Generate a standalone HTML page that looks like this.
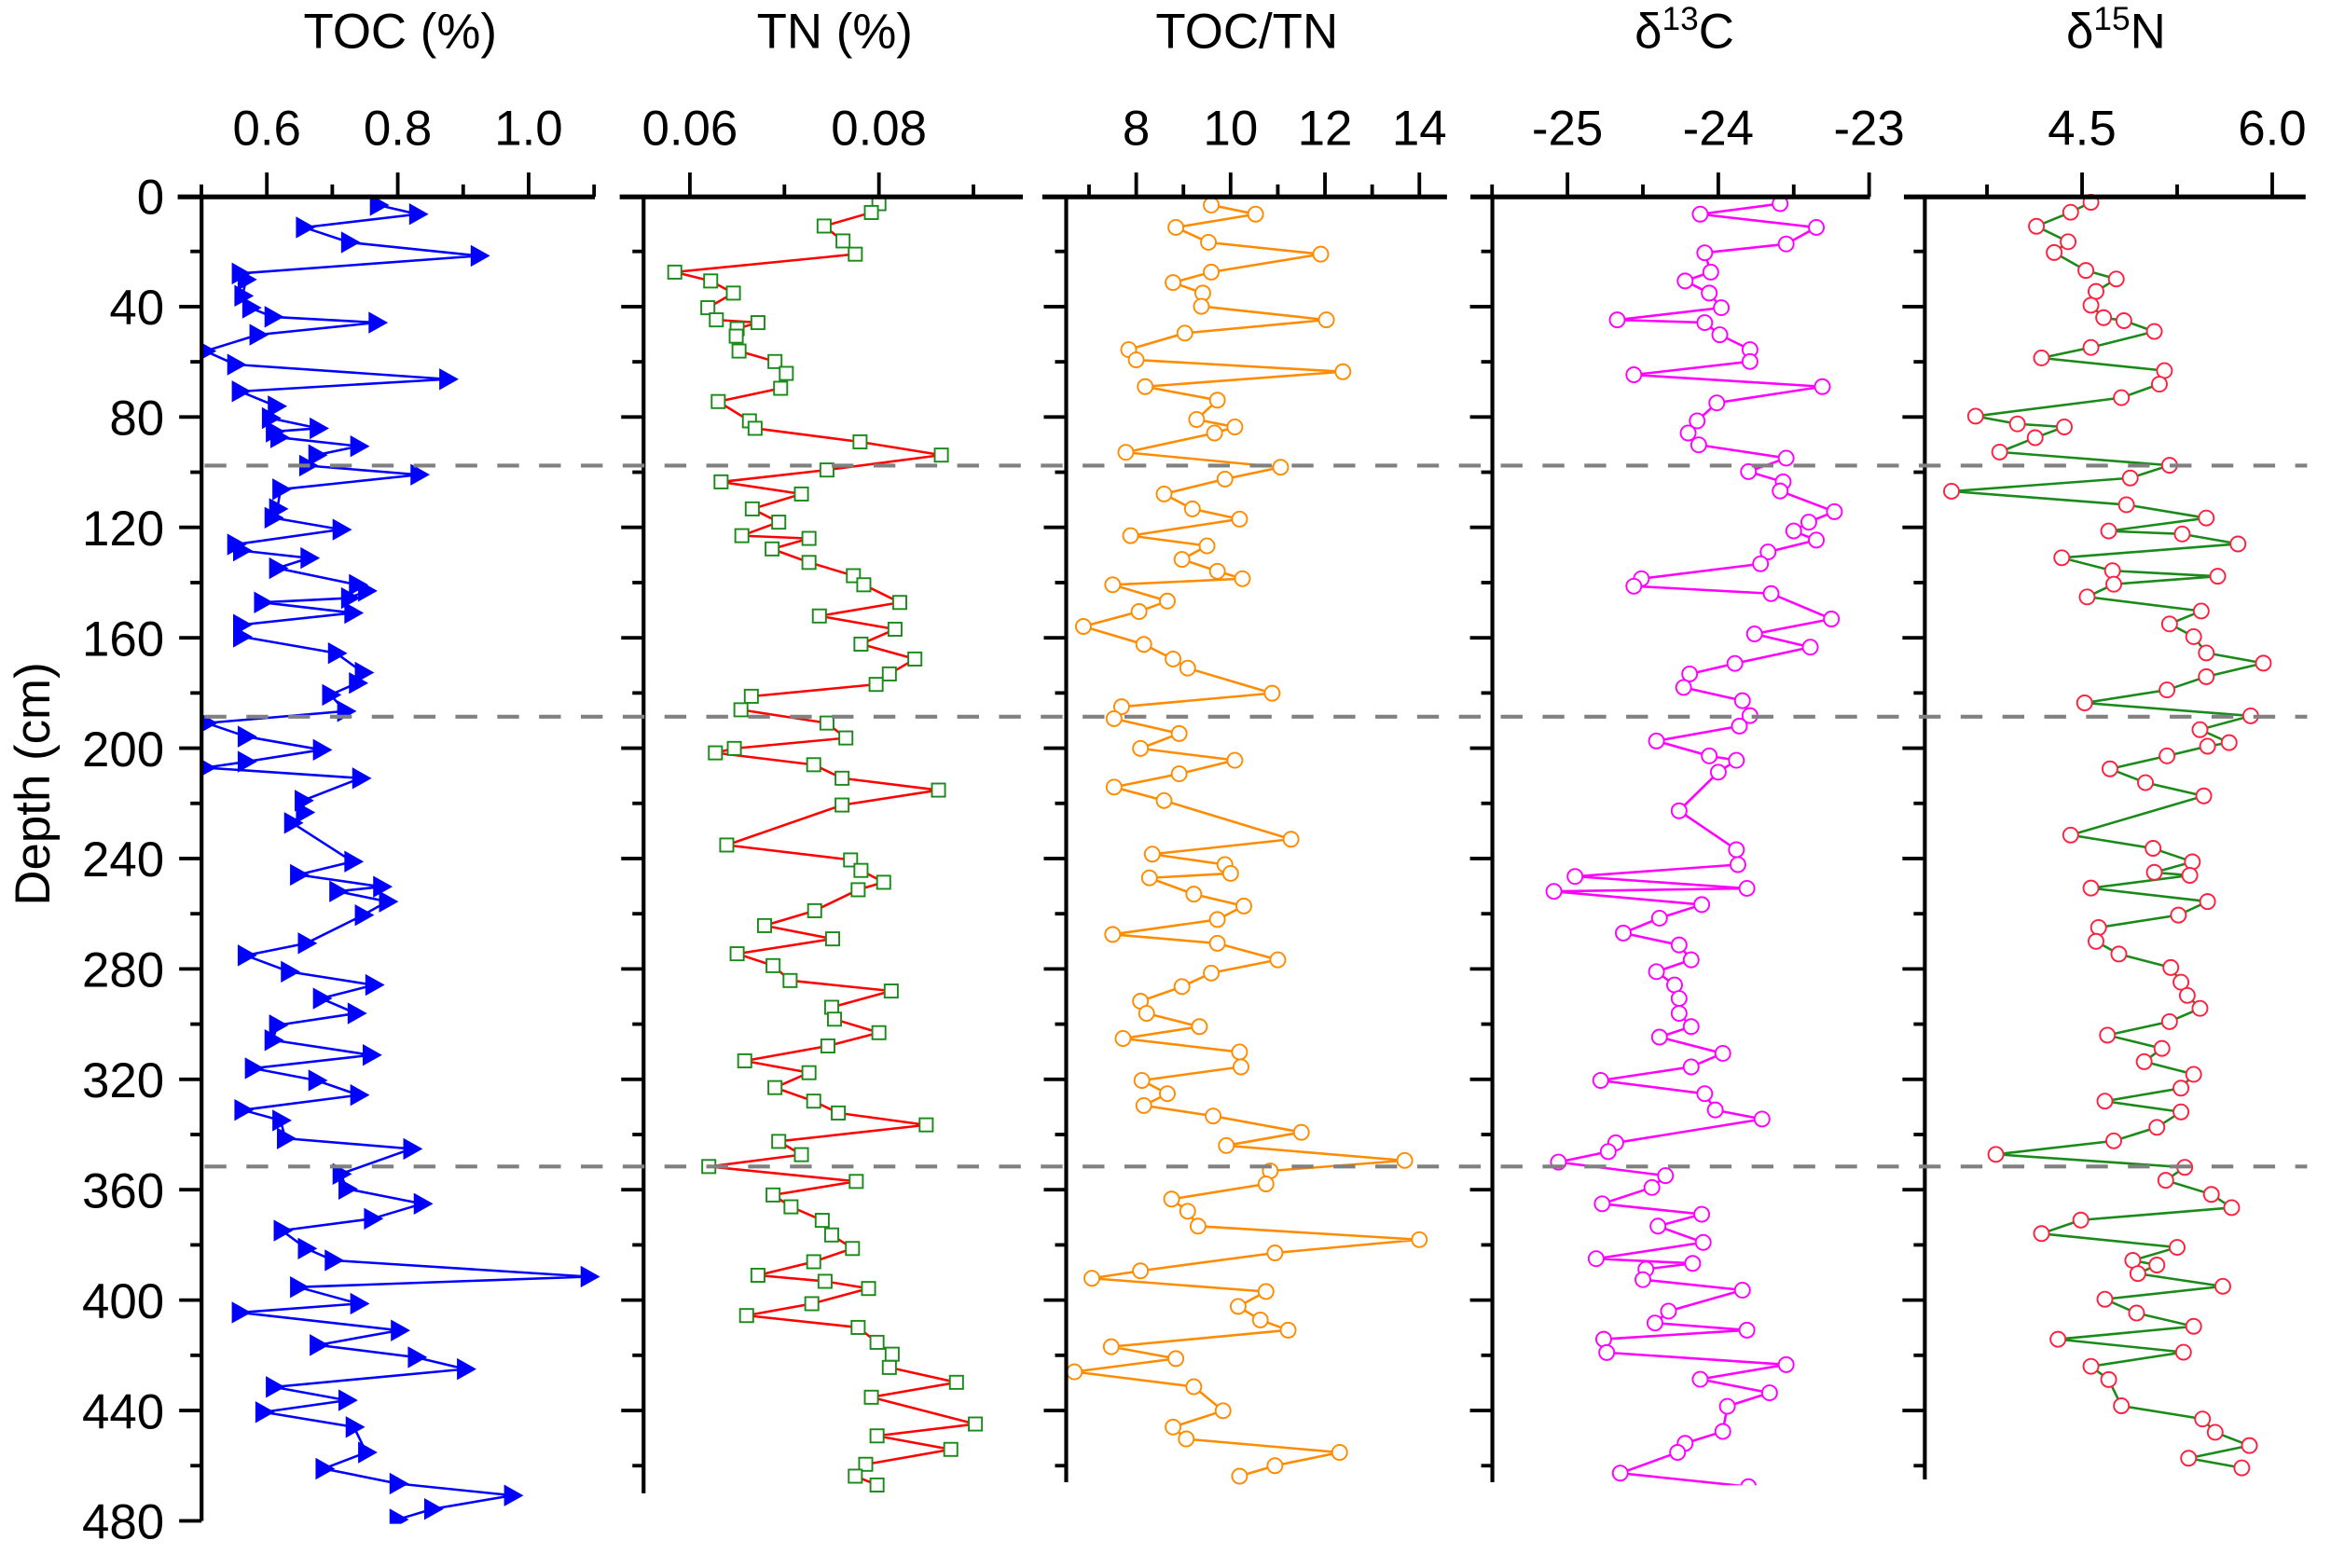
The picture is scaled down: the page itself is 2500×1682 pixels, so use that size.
<!DOCTYPE html>
<html><head><meta charset="utf-8"><title>Depth profiles</title>
<style>html,body{margin:0;padding:0;background:#fff;}svg{display:block;}text{font-family:"Liberation Sans",Arial,sans-serif;fill:#000;}</style>
</head><body>
<svg id="chart" xmlns="http://www.w3.org/2000/svg" width="2500" height="1682" viewBox="0 0 1561 1050" preserveAspectRatio="none">
<text x="0" y="0" font-size="33" text-anchor="middle" transform="translate(33,525) rotate(-90)">Depth (cm)</text>
<text x="268" y="32" font-size="33" text-anchor="middle">TOC (%)</text>
<text x="559" y="32" font-size="33" text-anchor="middle">TN (%)</text>
<text x="835" y="32" font-size="33" text-anchor="middle">TOC/TN</text>
<text x="1128" y="32" font-size="33" text-anchor="middle">δ<tspan dy="-12" font-size="22">13</tspan><tspan dy="12">C</tspan></text>
<text x="1417" y="32" font-size="33" text-anchor="middle">δ<tspan dy="-12" font-size="22">15</tspan><tspan dy="12">N</tspan></text>
<g id="layer"></g>
</svg>
<script>
// ---- data ----
const tocDepth=[3.2,6.5,11.3,16.7,21.6,28.0,30.2,36.1,40.4,43.7,45.8,50.2,56.1,61.0,66.3,70.7,76.1,80.4,84.1,85.3,87.4,90.6,93.8,97.6,100.9,106.2,113.3,116.5,120.8,126.2,128.4,131.1,134.8,140.8,143.0,145.6,147.2,151.0,155.3,159.6,165.6,172.6,176.4,180.7,186.6,190.9,195.8,200.6,204.9,207.1,210.9,219.0,223.3,227.1,241.1,245.9,250.2,251.9,255.6,260.5,270.7,275.1,281.0,285.8,290.7,296.1,300.4,305.8,311.2,316.0,320.4,325.7,331.1,334.9,341.4,345.2,354.3,359.7,365.1,370.5,374.8,381.3,385.6,391.5,395.3,401.3,404.5,411.0,416.3,420.7,425.0,431.5,436.3,440.6,446.0,455.2,461.1,466.5,470.8,475.7,479.5];
const tocValue=[0.770,0.830,0.657,0.726,0.924,0.559,0.568,0.563,0.575,0.609,0.768,0.586,0.506,0.552,0.876,0.559,0.614,0.605,0.678,0.611,0.618,0.740,0.676,0.662,0.832,0.621,0.616,0.609,0.713,0.552,0.561,0.664,0.616,0.738,0.752,0.726,0.593,0.731,0.561,0.561,0.706,0.747,0.738,0.697,0.720,0.508,0.568,0.683,0.568,0.506,0.743,0.655,0.657,0.639,0.731,0.648,0.775,0.708,0.784,0.747,0.660,0.568,0.634,0.763,0.683,0.736,0.616,0.609,0.759,0.579,0.676,0.740,0.563,0.621,0.628,0.821,0.713,0.722,0.837,0.761,0.623,0.660,0.701,1.092,0.648,0.740,0.559,0.802,0.678,0.828,0.903,0.611,0.722,0.595,0.733,0.752,0.687,0.800,0.975,0.853,0.800];

const tnDepth=[2.7,5.9,10.8,16.2,21.0,27.5,30.7,35.1,40.4,44.8,45.8,48.0,50.7,56.1,59.9,64.2,69.6,74.4,81.4,84.1,89.0,93.8,99.2,103.5,107.9,113.3,118.1,123.0,124.0,127.8,132.7,137.5,140.8,147.2,152.1,156.9,162.3,167.7,173.1,176.9,181.2,186.1,190.9,196.3,200.1,201.7,206.0,210.9,215.2,220.6,235.1,240.5,244.3,248.6,251.3,258.9,264.3,269.1,274.5,278.8,284.2,288.0,293.9,298.2,303.1,307.9,313.3,317.6,323.0,327.9,332.2,336.5,342.5,347.3,351.6,357.0,361.9,366.2,371.1,376.4,381.3,386.1,391.0,393.2,395.8,401.3,405.6,409.9,415.3,419.6,424.4,429.8,435.2,444.9,449.2,454.1,459.5,463.8,467.0];
const tnValue=[0.0800,0.0792,0.0742,0.0762,0.0775,0.0584,0.0622,0.0646,0.0619,0.0628,0.0672,0.0650,0.0649,0.0652,0.0690,0.0702,0.0696,0.0630,0.0663,0.0669,0.0780,0.0866,0.0745,0.0633,0.0718,0.0666,0.0694,0.0655,0.0726,0.0687,0.0726,0.0773,0.0784,0.0822,0.0737,0.0817,0.0781,0.0838,0.0811,0.0797,0.0665,0.0654,0.0745,0.0765,0.0647,0.0627,0.0731,0.0761,0.0863,0.0761,0.0639,0.0770,0.0781,0.0805,0.0778,0.0732,0.0679,0.0751,0.0650,0.0688,0.0706,0.0813,0.0750,0.0753,0.0800,0.0746,0.0658,0.0726,0.0690,0.0731,0.0757,0.0850,0.0694,0.0718,0.0620,0.0776,0.0688,0.0707,0.0740,0.0750,0.0772,0.0731,0.0672,0.0743,0.0789,0.0729,0.0660,0.0778,0.0798,0.0814,0.0811,0.0882,0.0792,0.0902,0.0798,0.0876,0.0786,0.0775,0.0798];

const ctnDepth=[3.2,6.5,11.3,16.7,21.0,27.5,31.3,35.1,39.9,44.8,49.6,55.6,59.3,63.6,69.0,73.9,80.9,83.6,85.8,92.8,98.2,102.5,107.9,113.3,117.0,123.0,126.7,131.6,135.9,138.6,140.8,146.7,150.5,155.9,162.4,167.7,171.0,180.1,185.0,189.3,194.7,200.1,204.4,209.3,214.1,219.0,233.0,238.4,242.2,245.4,247.0,252.9,257.2,262.1,267.5,270.7,276.7,281.5,286.4,291.7,296.1,300.9,305.2,310.1,315.5,320.4,325.2,329.5,333.3,339.2,344.0,349.4,353.2,357.9,363.4,367.8,373.2,378.1,382.9,389.4,392.1,396.9,402.3,407.2,410.9,416.9,421.2,426.0,431.4,440.1,446.0,450.3,455.2,460.0,463.8];
const ctnValue=[9.59,10.53,8.84,9.53,11.91,9.59,8.78,9.41,9.38,12.03,9.03,7.84,8.00,12.38,8.19,9.72,9.28,10.09,9.66,7.78,11.06,9.88,8.59,9.19,10.19,7.88,9.50,8.97,9.72,10.25,7.50,8.66,8.06,6.88,8.16,8.78,9.09,10.88,7.69,7.53,8.91,8.09,10.09,8.91,7.53,8.59,11.28,8.34,9.88,10.00,8.28,9.22,10.28,9.72,7.50,9.72,11.00,9.59,8.97,8.09,8.22,9.34,7.72,10.19,10.22,8.12,8.66,8.16,9.63,11.50,9.91,13.69,10.84,10.75,8.75,9.09,9.31,14.00,10.94,8.09,7.06,10.75,10.16,10.63,11.22,7.47,8.84,6.69,9.22,9.84,8.78,9.06,12.31,10.94,10.19];

const c13Depth=[2.7,6.5,11.3,17.3,20.5,27.5,30.7,35.1,40.4,44.8,45.8,50.2,55.6,59.9,64.7,69.0,74.9,81.4,85.8,90.1,94.9,99.8,103.5,106.8,114.3,118.1,121.3,124.6,128.9,133.2,138.6,141.3,144.0,153.2,158.6,163.4,169.3,173.1,178.0,182.8,188.2,192.0,197.4,202.8,204.4,208.7,222.7,236.8,242.2,246.5,250.8,251.9,256.7,261.6,267.0,271.3,276.7,281.0,285.8,290.7,296.1,300.9,304.7,310.6,315.5,320.4,325.2,331.1,334.4,343.0,346.2,350.0,354.9,359.2,365.1,368.9,373.2,379.1,385.0,386.7,388.8,392.6,396.4,404.0,408.3,410.9,414.2,419.0,423.4,428.7,433.6,438.5,447.6,451.9,455.2,462.7,467.6,470.8];
const c13Value=[-23.59,-24.12,-23.35,-23.55,-24.09,-24.05,-24.22,-24.06,-23.98,-24.67,-24.09,-23.99,-23.79,-23.79,-24.56,-23.31,-24.01,-24.14,-24.20,-24.13,-23.55,-23.80,-23.57,-23.59,-23.23,-23.40,-23.50,-23.35,-23.67,-23.72,-24.51,-24.56,-23.65,-23.25,-23.76,-23.39,-23.89,-24.19,-24.23,-23.84,-23.79,-23.86,-24.41,-24.06,-23.88,-24.00,-24.26,-23.88,-23.87,-24.95,-23.81,-25.09,-24.11,-24.39,-24.63,-24.26,-24.18,-24.41,-24.29,-24.26,-24.26,-24.18,-24.39,-23.97,-24.18,-24.78,-24.09,-24.02,-23.71,-24.68,-24.73,-25.06,-24.35,-24.44,-24.77,-24.11,-24.40,-24.10,-24.81,-24.17,-24.48,-24.50,-23.84,-24.33,-24.42,-23.81,-24.76,-24.74,-23.55,-24.12,-23.66,-23.94,-23.97,-24.22,-24.27,-24.65,-23.80,-24.27];

const n15Depth=[2.2,5.8,10.9,16.5,20.4,26.9,30.0,34.5,39.5,44.0,45.1,49.0,54.8,58.6,63.2,68.1,73.0,79.7,82.5,83.6,87.5,92.7,97.5,102.1,106.9,111.8,116.6,121.3,122.4,126.0,131.0,135.7,137.7,140.6,145.2,150.3,155.0,159.6,165.5,169.2,174.1,178.9,183.6,188.3,193.3,198.0,199.3,202.8,207.5,212.5,217.3,231.5,236.3,241.2,245.0,246.1,250.7,255.6,260.5,265.0,270.0,274.6,279.5,284.8,289.6,294.3,299.1,304.0,308.8,313.6,318.2,323.2,327.9,331.8,337.4,342.3,347.2,351.9,356.6,361.7,366.5,371.0,375.9,380.9,385.6,387.3,390.4,395.0,399.7,404.7,409.5,414.2,418.9,424.0,428.8,438.3,443.1,447.9,452.7,457.3,460.8];
const n15Value=[4.57,4.41,4.14,4.39,4.28,4.53,4.77,4.61,4.57,4.67,4.83,5.07,4.57,4.18,5.15,5.11,4.81,3.66,3.99,4.36,4.13,3.85,5.19,4.88,3.47,4.85,5.48,4.71,5.29,5.73,4.34,4.74,5.57,4.75,4.54,5.44,5.19,5.38,5.48,5.93,5.48,5.17,4.52,5.83,5.43,5.66,5.49,5.17,4.72,5.00,5.46,4.41,5.06,5.37,5.07,5.35,4.57,5.49,5.26,4.63,4.61,4.79,5.20,5.28,5.33,5.43,5.19,4.70,5.13,4.99,5.38,5.28,4.68,5.28,5.09,4.75,3.82,5.31,5.16,5.52,5.68,4.49,4.18,5.25,4.90,5.09,4.94,5.61,4.68,4.93,5.38,4.31,5.30,4.57,4.71,4.81,5.45,5.55,5.82,5.34,5.76];

const depthTicks=[0,40,80,120,160,200,240,280,320,360,400,440,480];
const boundaryDepths=[97.6,188.6,351.6];

// ---- drawing ----
const NS='http://www.w3.org/2000/svg';
const layer=document.getElementById('layer');
const yOf=d=>131.4+d*1.848;
function mk(tag,attrs,parent){const e=document.createElementNS(NS,tag);for(const k in attrs)e.setAttribute(k,attrs[k]);(parent||layer).appendChild(e);return e;}

const panels=[
 {key:'toc',left:135,start:119,right:398.4,bottom:480,x0:178.7,v0:0.6,k:438.3,major:[0.6,0.8,1.0],labels:['0.6','0.8','1.0'],minor:[0.5,0.7,0.9,1.1],depth:tocDepth,val:tocValue,line:'#0000ff',marker:'tri',mcol:'#0000ff'},
 {key:'tn',left:431,start:415,right:685,bottom:470,x0:462,v0:0.06,k:6330,major:[0.06,0.08],labels:['0.06','0.08'],minor:[0.07,0.09],depth:tnDepth,val:tnValue,line:'#ff0000',marker:'sq',mcol:'#1a8a1a'},
 {key:'toc-tn',left:714,start:698,right:969,bottom:466,x0:760.9,v0:8,k:31.6,major:[8,10,12,14],labels:['8','10','12','14'],minor:[7,9,11,13],depth:ctnDepth,val:ctnValue,line:'#ff8c00',marker:'circ',mcol:'#ff8c00'},
 {key:'d13c',left:999.4,start:984.7,right:1252.3,bottom:466,x0:1150.7,v0:-24,k:101,major:[-25,-24,-23],labels:['-25','-24','-23'],minor:[-25.5,-24.5,-23.5],depth:c13Depth,val:c13Value,line:'#ff00ff',marker:'circ',mcol:'#ff00ff'},
 {key:'d15n',left:1289,start:1275,right:1544,bottom:465,x0:1394.3,v0:4.5,k:84.9,major:[4.5,6.0],labels:['4.5','6.0'],minor:[3.75,5.25],depth:n15Depth,val:n15Value,line:'#1a8a1a',marker:'circ',mcol:'#ff2040'}
];

const defs=mk('defs',{});
panels.forEach(p=>{
  const xOf=v=>p.x0+(v-p.v0)*p.k;
  const g=mk('g',{});
  
  
  const cp=mk('clipPath',{id:'clip-'+p.key},defs);
  mk('rect',{x:p.left,y:120,width:p.right-p.left+20,height:yOf(p.bottom)-120+2},cp);
  const sg=mk('g',{'clip-path':'url(#clip-'+p.key+')'},g);
  
  
  const n=Math.min(p.depth.length,p.val.length);
  let pts=[];
  for(let i=0;i<n;i++)pts.push(xOf(p.val[i]).toFixed(1)+','+yOf(p.depth[i]).toFixed(1));
  const pl=mk('polyline',{points:pts.join(' '),fill:'none',stroke:p.line,'stroke-width':1.6,'stroke-linejoin':'round'},sg);
  
  
  for(let i=0;i<n;i++){
    const x=xOf(p.val[i]),y=yOf(p.depth[i]);let m;
    if(p.marker==='tri'){m=mk('path',{d:`M${x-5.5},${y-7.3}L${x+7.5},${y}L${x-5.5},${y+7.3}Z`,fill:p.mcol},sg);}
    else if(p.marker==='sq'){m=mk('rect',{x:x-4.4,y:y-4.4,width:8.8,height:8.8,fill:'#fff',stroke:p.mcol,'stroke-width':1.2},sg);}
    else {m=mk('circle',{cx:x,cy:y,r:5,fill:'#fff',stroke:p.mcol,'stroke-width':1.2},sg);}
    
    
  }
  const ax=mk('line',{x1:p.start,y1:131.8,x2:p.right,y2:131.8,stroke:'#000','stroke-width':3.2},g);
  
  
  const ay=mk('line',{x1:p.left,y1:130.5,x2:p.left,y2:yOf(p.bottom),stroke:'#000','stroke-width':2.6},g);
  
  
  p.major.forEach((v,i)=>{
    const x=xOf(v);
    const t=mk('line',{x1:x,y1:131.8,x2:x,y2:115.5,stroke:'#000','stroke-width':2.4},g);
    
    
    const lb=mk('text',{x:x,y:97,'font-size':33,'text-anchor':'middle'},g);
    lb.textContent=p.labels[i];
    
    
  });
  p.minor.forEach(v=>{
    const x=xOf(v);
    const t=mk('line',{x1:x,y1:131.8,x2:x,y2:123.5,stroke:'#000','stroke-width':2.4},g);
    
    
  });
  for(let d=20;d<=p.bottom;d+=20){
    const y=yOf(d);const major=(d%40===0);
    const t=mk('line',{x1:p.left-(major?15:7.5),y1:y,x2:p.left,y2:y,stroke:'#000','stroke-width':2.4},g);
    
    
  }
});
depthTicks.forEach(d=>{
  const t=mk('text',{x:110,y:yOf(d)+12,'font-size':33,'text-anchor':'end'});
  t.textContent=String(d);
  
  
});
boundaryDepths.forEach(d=>{
  const l=mk('line',{x1:137,y1:yOf(d),x2:1545,y2:yOf(d),stroke:'#808080','stroke-width':2.6,'stroke-dasharray':'14.6 13.4'});
  
  
});
</script>
</body></html>
